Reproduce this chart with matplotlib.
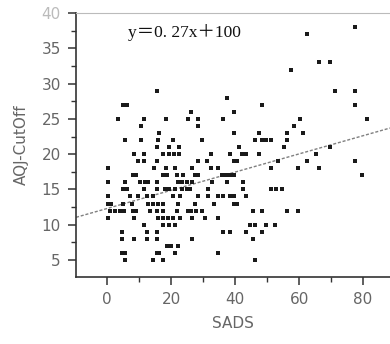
import numpy as np
import matplotlib
matplotlib.use("Agg")
import matplotlib.pyplot as plt
from matplotlib.ticker import MultipleLocator

# ---------- data (SADS, AQJ-CutOff) ----------
rows = {
    38: [77.5],
    37: [62.6],
    33: [66.3, 69.7],
    32: [57.5],
    29: [15.5, 71.3, 77.5],
    28: [37.6],
    27: [5.0, 6.3, 48.4, 77.5],
    26: [26.2, 39.7],
    25: [3.3, 11.4, 18.4, 25.4, 28.3, 36.3, 60.4, 81.3],
    24: [10.5, 28.3, 58.3],
    23: [16.2, 39.7, 47.5, 56.3, 61.3],
    22: [5.6, 10.5, 16.0, 20.5, 29.6, 46.3, 48.3, 49.8, 51.3, 56.3],
    21: [15.5, 19.4, 22.6, 41.3, 55.4, 69.5],
    20: [8.5, 11.6, 17.4, 19.4, 20.8, 22.6, 32.5, 38.4, 42.3, 43.4, 47.5, 65.3],
    19: [9.8, 11.6, 15.5, 28.5, 31.1, 39.8, 40.5, 53.5, 62.6, 77.5],
    18: [0.4, 14.8, 18.3, 21.3, 26.5, 32.5, 34.8, 51.3, 59.6, 66.3],
    17: [8.0, 9.0, 17.4, 18.6, 21.8, 23.8, 27.5, 28.3, 36.0, 37.0, 38.4, 39.8,
         79.6],
    16: [0.4, 5.6, 10.3, 11.9, 12.9, 15.5, 22.3, 23.5, 24.9, 26.5, 32.7, 37.6,
         42.6],
    15: [4.9, 6.3, 11.4, 15.5, 18.1, 19.4, 21.3, 23.5, 24.9, 25.9, 31.5, 42.6,
         51.3, 52.8, 54.6],
    14: [0.4, 7.2, 9.8, 12.4, 14.5, 20.7, 22.8, 28.5, 31.5, 34.8, 36.3, 38.4,
         39.8, 43.4],
    13: [0.4, 1.2, 5.1, 7.7, 12.9, 14.5, 16.0, 17.6, 22.3, 27.5, 33.5, 39.8,
         40.5],
    12: [0.9, 2.5, 4.1, 5.3, 8.0, 8.9, 13.4, 15.5, 17.6, 21.8, 25.4, 26.3,
         27.8, 29.6, 45.7, 48.5, 56.1, 59.6],
    11: [0.4, 8.5, 15.8, 17.6, 19.1, 20.7, 22.8, 26.5, 30.6, 34.8],
    10: [11.4, 17.6, 19.4, 21.3, 44.7, 46.3, 49.7, 52.6],
    9: [4.6, 12.4, 15.5, 36.3, 38.4, 43.4, 48.5],
    8: [4.6, 8.5, 12.4, 15.5, 26.5, 45.5],
    7: [18.6, 20.0, 22.3],
    6: [4.6, 5.6, 15.5, 16.3, 21.3, 34.6],
    5: [5.6, 14.5, 17.6, 46.3],
}
sads = [x for y, xs in rows.items() for x in xs]
aqj = [y for y, xs in rows.items() for x in xs]

# fitted line as drawn (intercept, slope)
fit_a, fit_b = 12.3, 0.129
equation = "y\uff1d0. 27x\uff0b100"

x_ticks = [0, 20, 40, 60, 80]
y_ticks = [5, 10, 15, 20, 25, 30, 35, 40]

# ---------- plot ----------
fig = plt.figure(figsize=(3.9, 3.44), dpi=100)
ax = fig.add_axes([0.195, 0.195, 0.805, 0.767])

ax.scatter(sads, aqj, marker='s', s=5.5, color='#1a1a1a', linewidths=0,
           zorder=3)

xlim = (-9.7, 88.4)
xs = np.array(xlim)
ax.plot(xs, fit_a + fit_b * xs, linestyle=(0, (2.2, 1.3)), color='#808080',
        linewidth=1.0, zorder=2)

# equation text: serif with full-width = and + (CJK fallback)
ax.text(6.6, 37.2, equation, family=['Liberation Serif', 'Noto Sans CJK SC'],
        fontsize=12.5, va='center', ha='left', color='#111111')

ax.set_xlim(*xlim)
ax.set_ylim(2.6, 40)
ax.set_xticks(x_ticks)
ax.set_yticks(y_ticks)
ax.xaxis.set_minor_locator(MultipleLocator(10))
ax.yaxis.set_minor_locator(MultipleLocator(2.5))

ax.spines['right'].set_visible(False)
ax.spines['top'].set_color('#bbbbbb')
for s in ('left', 'bottom'):
    ax.spines[s].set_color('#333333')
    ax.spines[s].set_linewidth(1.2)

ax.tick_params(which='major', length=6, width=1.1, color='#333333',
               labelsize=11, labelcolor='#666666', pad=5)
ax.tick_params(which='minor', length=3.5, width=1.0, color='#333333')
ax.get_yticklabels()[-1].set_color('#bbbbbb')

ax.set_xlabel('SADS', fontsize=11, color='#666666', labelpad=6)
ax.set_ylabel('AQJ-CutOff', fontsize=11, color='#666666', labelpad=9)

fig.savefig('out.png', dpi=100)
